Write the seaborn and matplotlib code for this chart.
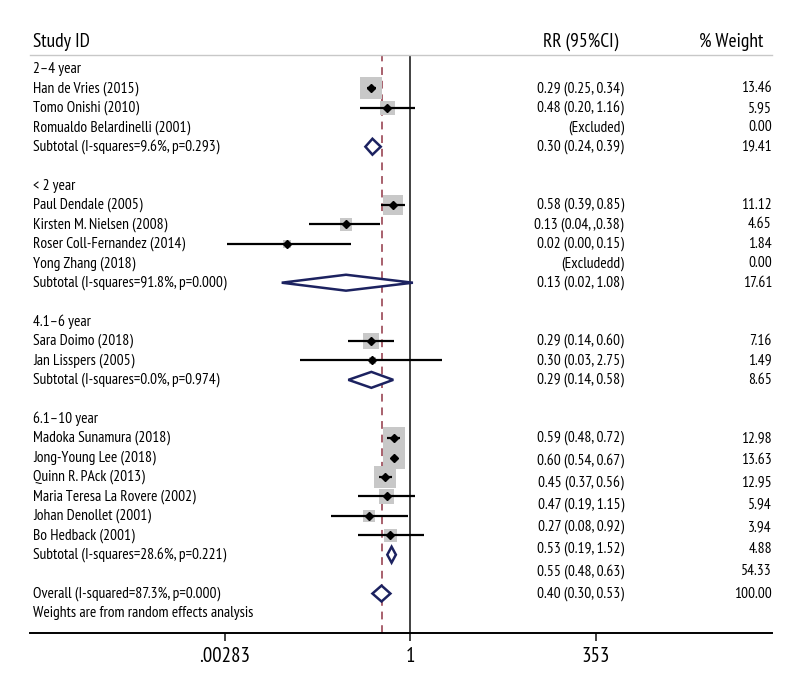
import numpy as np
import pandas as pd
import seaborn as sns
import matplotlib.pyplot as plt
from matplotlib.transforms import blended_transform_factory

# Veriler
groups = ["2–4 year", "< 2 year", "4.1–6 year", "6.1–10 year"]
studies = ["Han de Vries (2015)", "Tomo Onishi (2010)", "Romualdo Belardinelli (2001)",
           "Paul Dendale (2005)", "Kirsten M. Nielsen (2008)", "Roser Coll-Fernandez (2014)", "Yong Zhang (2018)",
           "Sara Doimo (2018)", "Jan Lisspers (2005)",
           "Madoka Sunamura (2018)", "Jong-Young Lee (2018)", "Quinn R. PAck (2013)",
           "Maria Teresa La Rovere (2002)", "Johan Denollet (2001)", "Bo Hedback (2001)"]
study_group = [0, 0, 0, 1, 1, 1, 1, 2, 2, 3, 3, 3, 3, 3, 3]
rr = [0.29, 0.48, np.nan, 0.58, 0.13, 0.02, np.nan, 0.29, 0.30, 0.59, 0.60, 0.45, 0.47, 0.27, 0.53]
lo = [0.25, 0.20, np.nan, 0.39, 0.04, 0.003, np.nan, 0.14, 0.03, 0.48, 0.54, 0.37, 0.19, 0.08, 0.19]
hi = [0.34, 1.16, np.nan, 0.85, 0.38, 0.15, np.nan, 0.60, 2.75, 0.72, 0.67, 0.56, 1.15, 0.92, 1.52]
weight = [13.46, 5.95, 0.00, 11.12, 4.65, 1.84, 0.00, 7.16, 1.49, 12.98, 13.63, 12.95, 5.94, 3.94, 4.88]
ci_text = ["0.29 (0.25, 0.34)", "0.48 (0.20, 1.16)", "(Excluded)",
           "0.58 (0.39, 0.85)", "0.13 (0.04, ,0.38)", "0.02 (0.00, 0.15)", "(Excludedd)",
           "0.29 (0.14, 0.60)", "0.30 (0.03, 2.75)",
           "0.59 (0.48, 0.72)", "0.60 (0.54, 0.67)", "0.45 (0.37, 0.56)",
           "0.47 (0.19, 1.15)", "0.27 (0.08, 0.92)", "0.53 (0.19, 1.52)"]

sub_labels = ["Subtotal (I-squares=9.6%, p=0.293)", "Subtotal (I-squares=91.8%, p=0.000)",
              "Subtotal (I-squares=0.0%, p=0.974)", "Subtotal (I-squares=28.6%, p=0.221)"]
sub_rr = [0.30, 0.13, 0.29, 0.55]
sub_lo = [0.24, 0.017, 0.14, 0.48]
sub_hi = [0.39, 1.08, 0.58, 0.63]
sub_weight = [19.41, 17.61, 8.65, 54.33]
sub_text = ["0.30 (0.24, 0.39)", "0.13 (0.02, 1.08)", "0.29 (0.14, 0.58)", "0.55 (0.48, 0.63)"]

overall_label = "Overall (I-squared=87.3%, p=0.000)"
overall_rr, overall_lo, overall_hi = 0.40, 0.30, 0.53
overall_text = "0.40 (0.30, 0.53)"
overall_weight = 100.00
footnote = "Weights are from random effects analysis"

tick_vals = [0.00283, 1, 353]
tick_labels = [".00283", "1", "353"]

# Satır düzeni
r = 0
group_row, study_row, sub_row = {}, {}, {}
for g in range(len(groups)):
    group_row[g] = r; r += 1
    for i, sg in enumerate(study_group):
        if sg == g:
            study_row[i] = r; r += 1
    sub_row[g] = r; r += 2
overall_row = r - 0  # son alt toplamdan sonra bir boş satır
overall_row = sub_row[len(groups) - 1] + 2
footnote_row = overall_row + 1

df = pd.DataFrame({"study": studies, "rr": rr, "lo": lo, "hi": hi, "weight": weight,
                   "row": [study_row[i] for i in range(len(studies))]})
plotted = df.dropna()

sns.set_theme(style="white")
plt.rcParams['font.family'] = ['PT Sans Narrow', 'DejaVu Sans']
plt.rcParams['text.color'] = 'black'

fig = plt.figure(figsize=(8, 7), dpi=100)
ax = fig.add_axes([30 / 800, 1 - 633 / 700, 742 / 800, (633 - 55) / 700])
ax.set_xscale('log')
ax.set_xlim(np.exp(-12.04), np.exp(11.44))
ax.set_ylim(29.03, -0.72)

navy = "#1c2260"
# Kareler
wmin, wmax = plotted.weight.min(), plotted.weight.max()
sns.scatterplot(data=plotted, x="rr", y="row", size="weight", sizes=(18.7 * wmin, 18.7 * wmax),
                size_norm=(wmin, wmax), marker="s", color="#c8c8c8",
                edgecolor="none", legend=False, ax=ax, zorder=2)
# Güven aralıkları
ax.hlines(plotted.row, plotted.lo, plotted.hi, color="black", lw=1.6, zorder=3)
ax.plot(plotted.rr, plotted.row, "D", color="black", ms=4, zorder=4)

# Elmaslar
def diamond(c, l, h, y, hh=0.41):
    ax.fill([l, c, h, c, l], [y, y - hh, y, y + hh, y], facecolor="white", edgecolor=navy, lw=1.8, zorder=5)

for g in range(len(groups)):
    diamond(sub_rr[g], sub_lo[g], sub_hi[g], sub_row[g])
diamond(overall_rr, overall_lo, overall_hi, overall_row)

# Referans çizgileri
ax.axvline(1, color="#333333", lw=1.3, zorder=1)
ax.axvline(overall_rr, color="#a8606c", lw=1.4, ls=(0, (4, 3)), zorder=1)

# Eksenler
for s in ["left", "right"]:
    ax.spines[s].set_visible(False)
ax.spines["top"].set_color("#c8c8c8")
ax.spines["top"].set_linewidth(1)
ax.spines["bottom"].set_color("black")
ax.spines["bottom"].set_linewidth(1.4)
ax.set_xticks(tick_vals)
ax.set_xticklabels(tick_labels, fontsize=15)
ax.xaxis.set_minor_locator(plt.NullLocator())
ax.tick_params(axis="x", bottom=True, length=6, width=1.3, color="#333333", pad=4, labelcolor="black")
ax.set_yticks([])
ax.set_xlabel("")
ax.set_ylabel("")

# Metinler
tr = blended_transform_factory(ax.transAxes, ax.transData)
fs = 11.2
xl, xrr, xw = 0.004, 0.8005, 1.0
header_row = -1.39
ax.text(xl, header_row, "Study ID", transform=tr, fontsize=14, va="center", ha="left")
ax.text(0.7925, header_row, "RR (95%CI)", transform=tr, fontsize=14, va="center", ha="right")
ax.text(0.988, header_row, "% Weight", transform=tr, fontsize=14, va="center", ha="right")

for g in range(len(groups)):
    ax.text(xl, group_row[g], groups[g], transform=tr, fontsize=fs, va="center")
    ax.text(xl, sub_row[g], sub_labels[g], transform=tr, fontsize=fs, va="center")
for i in range(len(studies)):
    ax.text(xl, study_row[i], studies[i], transform=tr, fontsize=fs, va="center")
ax.text(xl, overall_row, overall_label, transform=tr, fontsize=fs, va="center")
ax.text(xl, footnote_row, footnote, transform=tr, fontsize=fs, va="center")

# Sağ sütun (son grupta satırlar genişletilmiş)
last = len(groups) - 1
for i in range(len(studies)):
    if study_group[i] != last:
        ax.text(xrr, study_row[i], ci_text[i], transform=tr, fontsize=fs, va="center", ha="right")
        ax.text(xw, study_row[i], f"{weight[i]:.2f}", transform=tr, fontsize=fs, va="center", ha="right")
for g in range(last):
    ax.text(xrr, sub_row[g], sub_text[g], transform=tr, fontsize=fs, va="center", ha="right")
    ax.text(xw, sub_row[g], f"{sub_weight[g]:.2f}", transform=tr, fontsize=fs, va="center", ha="right")
last_idx = [i for i in range(len(studies)) if study_group[i] == last]
last_txt = [ci_text[i] for i in last_idx] + [sub_text[last], overall_text]
last_w = [weight[i] for i in last_idx] + [sub_weight[last], overall_weight]
ys = np.linspace(study_row[last_idx[0]], overall_row, len(last_txt))
for y, t, w in zip(ys, last_txt, last_w):
    ax.text(xrr, y, t, transform=tr, fontsize=fs, va="center", ha="right")
    ax.text(xw, y, f"{w:.2f}", transform=tr, fontsize=fs, va="center", ha="right")

fig.savefig("out.png", dpi=100, facecolor="white")
